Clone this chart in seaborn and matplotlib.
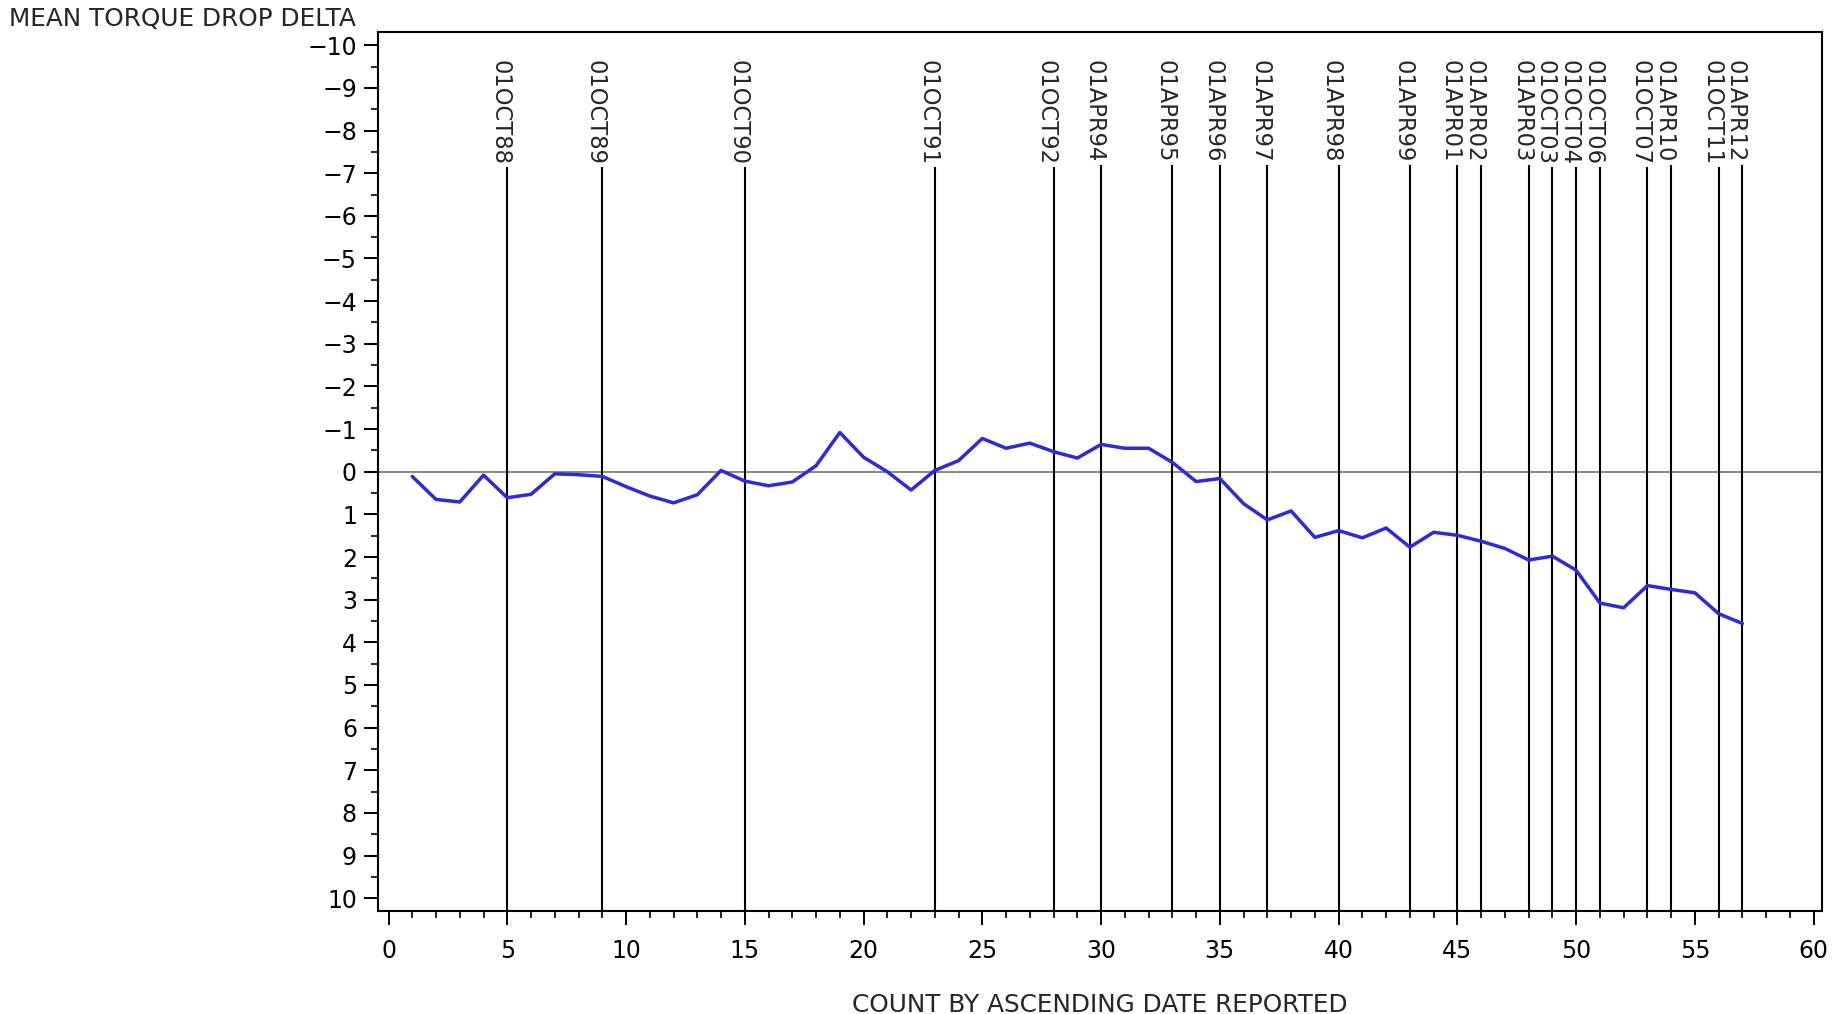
import matplotlib
matplotlib.use('Agg')
import matplotlib.pyplot as plt
import seaborn as sns
from matplotlib.ticker import MultipleLocator

# count by ascending date reported
count = [1, 2, 3, 4, 5, 6, 7, 8, 9, 10, 11, 12, 13, 14, 15, 16, 17, 18, 19, 20,
         21, 22, 23, 24, 25, 26, 27, 28, 29, 30, 31, 32, 33, 34, 35, 36, 37, 38, 39, 40,
         41, 42, 43, 44, 45, 46, 47, 48, 49, 50, 51, 52, 53, 54, 55, 56, 57]
delta = [0.11, 0.65, 0.71, 0.08, 0.61, 0.53, 0.05, 0.07, 0.11, 0.35,
         0.57, 0.73, 0.54, -0.03, 0.22, 0.33, 0.24, -0.14, -0.92, -0.34,
         0.00, 0.43, -0.03, -0.26, -0.78, -0.55, -0.67, -0.47, -0.32, -0.64,
         -0.55, -0.55, -0.22, 0.23, 0.16, 0.75, 1.13, 0.92, 1.54, 1.38,
         1.55, 1.32, 1.77, 1.42, 1.49, 1.63, 1.80, 2.07, 1.98, 2.31,
         3.08, 3.19, 2.67, 2.76, 2.84, 3.33, 3.56]

# reference dates marked on the chart
event_count = [5, 9, 15, 23, 28, 30, 33, 35, 37, 40, 43, 45, 46, 48, 49, 50, 51, 53, 54, 56, 57]
event_label = ['01OCT88', '01OCT89', '01OCT90', '01OCT91', '01OCT92', '01APR94', '01APR95',
               '01APR96', '01APR97', '01APR98', '01APR99', '01APR01', '01APR02', '01APR03',
               '01OCT03', '01OCT04', '01OCT06', '01OCT07', '01APR10', '01OCT11', '01APR12']

sns.set_theme(style='ticks')
plt.rcParams['font.family'] = ['DejaVu Sans']
plt.rcParams['font.size'] = 16

fig = plt.figure(figsize=(18.43, 10.14), dpi=100)
ax = fig.add_axes([0.205, 0.1016, 0.7836, 0.8664])

ax.axhline(0, color='#808080', linewidth=1.3, zorder=1)
sns.lineplot(x=count, y=delta, color='#2b2bdd', linewidth=2.5, ax=ax, zorder=3)

ax.set_xlim(-0.45, 60.35)
ax.set_ylim(10.3, -10.3)

ax.xaxis.set_major_locator(MultipleLocator(5))
ax.xaxis.set_minor_locator(MultipleLocator(1))
ax.yaxis.set_major_locator(MultipleLocator(1))
ax.yaxis.set_minor_locator(MultipleLocator(0.5))
ax.tick_params(axis='both', which='major', direction='out', length=10, width=1.4,
               color='black', labelsize=17, labelcolor='black')
ax.tick_params(axis='both', which='minor', direction='out', length=5, width=1.2, color='black')
ax.tick_params(axis='x', which='major', pad=10)
ax.tick_params(axis='y', which='major', pad=5)

for s in ax.spines.values():
    s.set_color('black')
    s.set_linewidth(1.5)
    s.set_visible(True)

ax.set_xlabel('COUNT BY ASCENDING DATE REPORTED', fontsize=17.8, labelpad=22)
ax.set_ylabel('')
fig.text(0.005, 0.993, 'MEAN TORQUE DROP DELTA', fontsize=17.8, ha='left', va='top')

texts = []
for x, lab in zip(event_count, event_label):
    t = ax.text(x - 0.3, -9.65, lab, rotation=270, ha='center', va='top', fontsize=16.3, zorder=4)
    texts.append(t)

fig.canvas.draw()
renderer = fig.canvas.get_renderer()
inv = ax.transData.inverted()
for x, t in zip(event_count, texts):
    bb = t.get_window_extent(renderer)
    y_top = inv.transform((0, bb.y0 - 2))[1]
    ax.vlines(x, y_top, 10.3, color='black', linewidth=1.5, zorder=2)

fig.savefig('out.png', dpi=100)
plt.close(fig)
